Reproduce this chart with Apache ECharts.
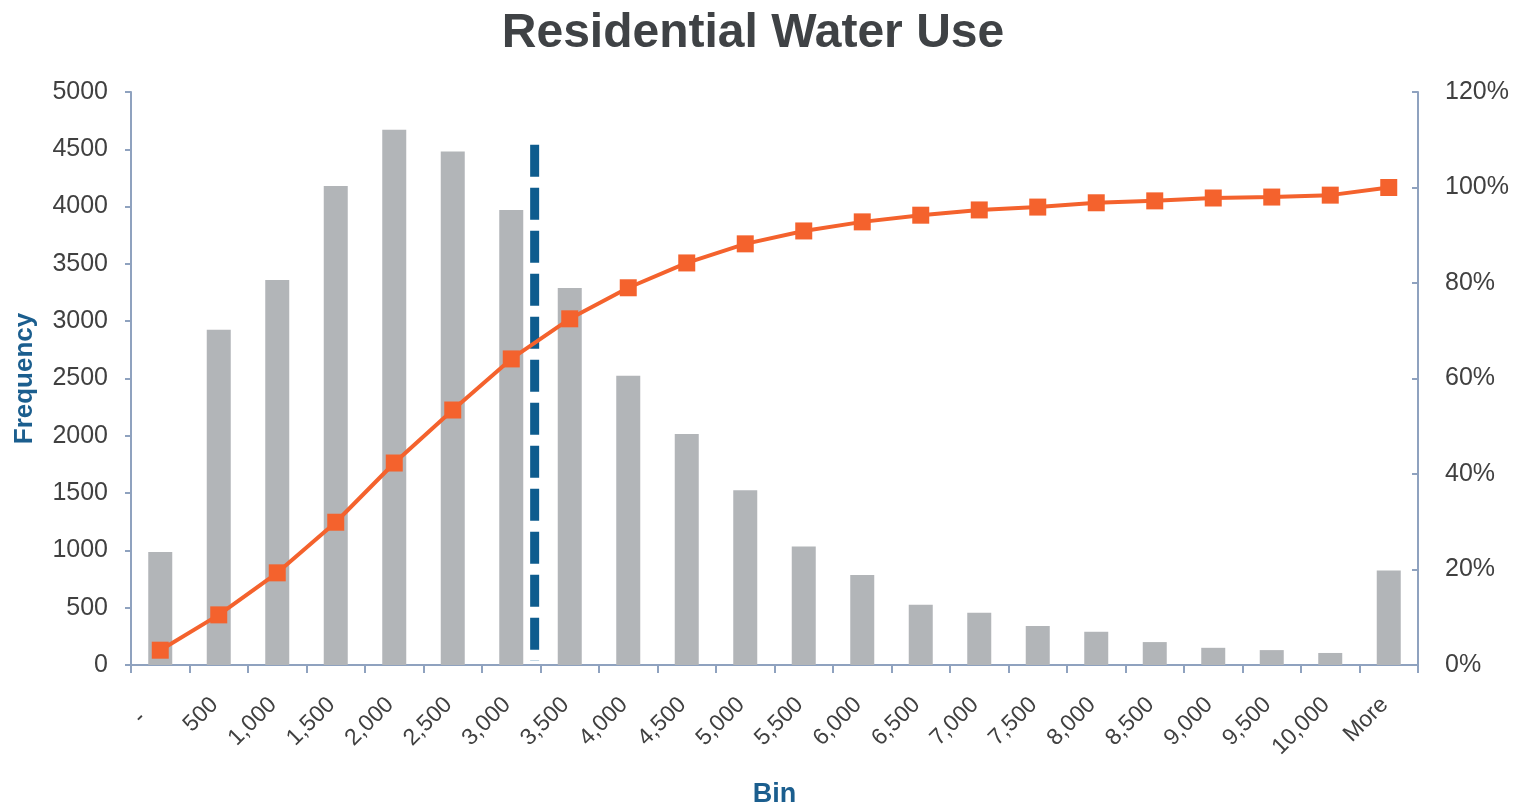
<!DOCTYPE html>
<html>
<head>
<meta charset="utf-8">
<title>Residential Water Use</title>
<script src="https://cdn.jsdelivr.net/npm/echarts@6/dist/echarts.min.js"></script>
<style>
  html, body { margin: 0; padding: 0; background: #ffffff; }
  #chart { width: 1527px; height: 806px; }
</style>
</head>
<body>
<div id="chart"></div>
<script>
// Usage bins (gallons)
const bins = ['-', '500', '1,000', '1,500', '2,000', '2,500', '3,000', '3,500', '4,000', '4,500',
  '5,000', '5,500', '6,000', '6,500', '7,000', '7,500', '8,000', '8,500', '9,000', '9,500', '10,000', 'More'];

// Number of households in each bin
const frequency = [985, 2925, 3360, 4180, 4670, 4480, 3970, 3290, 2525, 2015,
  1525, 1035, 785, 525, 455, 340, 290, 200, 150, 130, 105, 825];

// Cumulative share (%)
const cumulative = [3.1, 10.5, 19.3, 29.9, 42.3, 53.4, 64.1, 72.5, 79.0, 84.2,
  88.2, 90.9, 92.8, 94.2, 95.3, 95.9, 96.8, 97.2, 97.8, 98.0, 98.4, 100.0];

// Reference line position (in bin-width units from the left edge), drawn top to bottom
const refLineX = [6.9, 6.9];
const refLineY = [4540, 35];

const textColor = '#404040';
const axisColor = '#8FA2BF';
const labelBlue = '#1B5E8E';
const font = 'Liberation Sans, Arial, sans-serif';

const chart = echarts.init(document.getElementById('chart'));

chart.setOption({
  animation: false,
  backgroundColor: '#ffffff',
  title: {
    text: 'Residential Water Use',
    left: 748,
    textAlign: 'center',
    top: 5,
    textStyle: { fontFamily: font, fontSize: 48, fontWeight: 'bold', color: '#3F4245' }
  },
  grid: { left: 131, right: 109, top: 92, bottom: 141, containLabel: false, outerBoundsMode: 'none' },
  xAxis: [
    {
      type: 'category',
      data: bins,
      boundaryGap: true,
      name: 'Bin',
      nameLocation: 'middle',
      nameGap: 116,
      nameTextStyle: { fontFamily: font, fontSize: 27, fontWeight: 'bold', color: labelBlue },
      axisLine: { lineStyle: { color: axisColor, width: 2 } },
      axisTick: { show: true, length: 8, lineStyle: { color: axisColor, width: 2 } },
      axisLabel: {
        rotate: 45, interval: 0, margin: 32,
        padding: [0, 6, 0, 0],
        fontFamily: font, fontSize: 23, color: textColor,
        // zero bin is shown in accounting style with trailing space
        formatter: v => (v === '-' ? '-   ' : v)
      },
      splitLine: { show: false }
    },
    {
      type: 'value',
      min: 0,
      max: bins.length,
      show: false
    }
  ],
  yAxis: [
    {
      type: 'value',
      min: 0, max: 5000, interval: 500,
      name: 'Frequency',
      nameLocation: 'middle',
      nameGap: 93,
      nameRotate: 90,
      nameTextStyle: { fontFamily: font, fontSize: 26, fontWeight: 'bold', color: labelBlue },
      axisLine: { show: true, lineStyle: { color: axisColor, width: 2 } },
      axisTick: { show: true, length: 6, lineStyle: { color: axisColor, width: 2 } },
      axisLabel: { fontFamily: font, fontSize: 25, color: textColor, margin: 23, formatter: v => String(v) },
      splitLine: { show: false }
    },
    {
      type: 'value',
      min: 0, max: 120, interval: 20,
      position: 'right',
      axisLine: { show: true, lineStyle: { color: axisColor, width: 2 } },
      axisTick: { show: true, inside: true, length: 6, lineStyle: { color: axisColor, width: 2 } },
      axisLabel: { fontFamily: font, fontSize: 25, color: textColor, margin: 27, formatter: v => v + '%' },
      splitLine: { show: false }
    }
  ],
  series: [
    {
      name: 'Frequency',
      type: 'bar',
      xAxisIndex: 0,
      yAxisIndex: 0,
      data: frequency,
      barWidth: 24,
      itemStyle: { color: '#B2B5B8' },
      z: 2
    },
    {
      name: 'Reference',
      type: 'line',
      xAxisIndex: 1,
      yAxisIndex: 0,
      data: refLineX.map((x, i) => [x, refLineY[i]]),
      symbol: 'none',
      lineStyle: { color: '#0E5C8E', width: 9, type: [32, 11], cap: 'butt' },
      z: 3
    },
    {
      name: 'Cumulative %',
      type: 'line',
      xAxisIndex: 0,
      yAxisIndex: 1,
      data: cumulative,
      symbol: 'rect',
      symbolSize: 17,
      lineStyle: { color: '#F4622D', width: 4 },
      itemStyle: { color: '#F4622D' },
      z: 4
    }
  ]
});
</script>
</body>
</html>
